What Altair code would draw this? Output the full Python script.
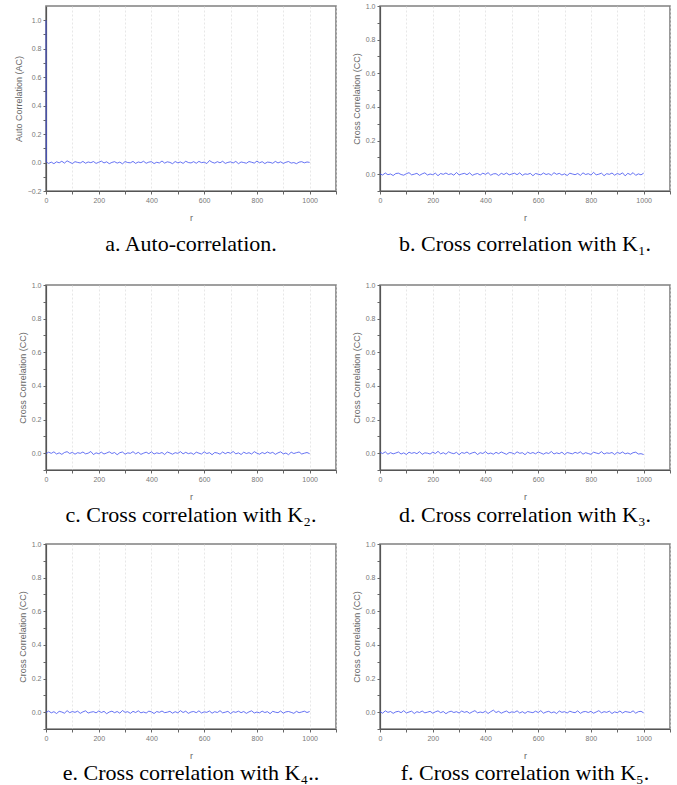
import altair as alt
import pandas as pd

# lag axis
LAGS = list(range(0, 1001, 10))
AC_LAGS = [0, 1] + list(range(10, 1001, 10))

# values in thousandths (read/estimated from the picture)
AC_VALUES = [1000, 4,
    -6, 3, -8, 5, -2, 9, -4, 12, 2, -7,
    6, 1, -3, 8, -5, 4, -1, 7, -6, 2,
    10, -3, 5, -8, 1, 6, -4, 3, -9, 7,
    0, -2, 8, -6, 4, -1, 9, -5, 3, 6,
    -7, 2, -3, 11, -4, 5, 1, -8, 7, -2,
    4, -6, 9, 0, -3, 6, -5, 8, -1, 3,
    -7, 14, 2, -4, 6, -2, 9, -6, 1, 5,
    -3, 8, -8, 4, 0, -5, 7, 2, -4, 10,
    -2, 6, -7, 3, 1, -5, 8, -3, 5, -6,
    2, 7, -4, 0, -8, 3, 6, -2, 4, 1]

K1_VALUES = [
    2, -5, 7, -3, 1, -8, 4, 6, -2, -6,
    3, 9, -4, 0, 5, -7, 2, 8, -5, 1,
    -3, 6, -9, 4, -1, 7, -2, 3, -6, 10,
    -4, 1, 5, -3, 8, -7, 0, 4, -5, 6,
    -1, 9, -6, 2, 3, -8, 5, -2, 7, -4,
    1, 6, -3, 8, -7, 2, -1, 5, -9, 4,
    0, -4, 7, -2, 3, -6, 9, -1, 5, -5,
    2, -8, 6, 1, -3, 4, -7, 8, -2, 3,
    -5, 11, -4, 0, 6, -9, 3, -1, 7, -6,
    4, -2, 8, -10, 5, -3, 9, -7, 2, -4,
    6]

K2_VALUES = [
    -3, 6, -1, 8, -5, 2, -7, 4, 9, -2,
    5, -6, 3, -1, 7, -4, 0, 10, -8, 2,
    -3, 6, -5, 1, 8, -2, 4, -9, 3, 7,
    -6, 2, -1, 9, -4, 5, -7, 0, 6, -3,
    8, -5, 2, -2, 4, -8, 7, 1, -6, 3,
    -1, 9, -4, 5, -3, 2, -7, 6, 0, -5,
    8, -2, 3, -9, 4, 1, -6, 7, -3, 5,
    -1, 10, -4, 2, -8, 6, -2, 3, -5, 9,
    0, -6, 4, -3, 7, -1, 5, -7, 2, 8,
    -4, 1, -9, 6, -2, 3, 7, -5, 0, 4,
    -3]

K3_VALUES = [
    5, -2, 8, -6, 3, -4, 1, 7, -5, 2,
    -8, 6, -1, 4, -3, 9, -7, 2, 0, -5,
    6, -2, 11, -4, 3, -6, 8, 1, -3, 5,
    -9, 4, -1, 7, -5, 2, 6, -8, 3, -2,
    9, -4, 1, -6, 5, -3, 7, 0, -7, 4,
    2, -5, 8, -1, 3, -9, 6, -2, 4, -4,
    7, 1, -6, 3, -2, 10, -5, 2, -3, 6,
    -8, 4, 0, -4, 5, -1, 8, -6, 3, -2,
    -7, 6, 1, -3, 9, -5, 2, -1, 4, -8,
    5, -2, 7, -4, 1, -6, 3, 6, -5, -3,
    -8]

K4_VALUES = [
    -2, 7, -4, 3, -8, 5, 1, -6, 9, -3,
    4, -1, 6, -7, 2, 8, -5, 0, 3, -4,
    7, -2, 5, -9, 1, 6, -3, 4, -6, 10,
    -1, 3, -7, 5, -2, 8, -4, 1, -5, 6,
    2, -8, 4, -1, 7, -3, 0, 5, -6, 3,
    -4, 9, -2, 6, -7, 1, 4, -3, 8, -5,
    2, -1, 7, -6, 3, -2, 9, -4, 0, 5,
    -8, 3, -1, 6, -3, 4, -7, 2, 8, -5,
    1, -4, 6, -2, 3, -9, 5, 0, -3, 7,
    -6, 2, 4, -1, -7, 5, -3, 1, 6, -2,
    4]

K5_VALUES = [
    3, -6, 8, -1, 4, -7, 2, 5, -3, 9,
    -5, 1, 6, -8, 3, -2, 7, -4, 0, 5,
    -6, 2, 8, -3, 4, -9, 1, 6, -2, 3,
    -5, 7, -1, 4, -7, 2, 9, -4, 1, -3,
    6, -8, 3, 12, -2, 5, -6, 1, 7, -4,
    2, -1, 8, -5, 3, -7, 4, 0, -3, 6,
    -2, 9, -6, 1, 5, -4, 2, -8, 7, -1,
    3, -5, 6, 0, -3, 8, -7, 2, 4, -2,
    5, -6, 1, 9, -4, 3, -1, 6, -8, 2,
    -3, 7, -5, 4, 1, -2, 8, -6, 3, 5,
    -4]

CAPTIONS = [
    "a. Auto-correlation.",
    "b. Cross correlation with K\u2081.",
    "c. Cross correlation with K\u2082.",
    "d. Cross correlation with K\u2083.",
    "e. Cross correlation with K\u2084..",
    "f. Cross correlation with K\u2085.",
]
Y_TITLES = ["Auto Correlation (AC)"] + ["Cross Correlation (CC)"] * 5

X_TICKS = [0, 100, 200, 300, 400, 500, 600, 700, 800, 900, 1000, 1100]
Y_TICKS_AC = [-0.2, -0.1, 0.0, 0.1, 0.2, 0.3, 0.4, 0.5, 0.6, 0.7, 0.8, 0.9, 1.0]
Y_TICKS_CC = [-0.1, 0.0, 0.1, 0.2, 0.3, 0.4, 0.5, 0.6, 0.7, 0.8, 0.9, 1.0]

LINE_COLOR = "#3f4ff0"
W, H = 290, 185


def make_df(lags, vals):
    return pd.DataFrame({"r": lags, "v": [x / 1000.0 for x in vals]})


def panel(df, ytitle, ydomain, yticks, caption, cap_offset):
    return (
        alt.Chart(df)
        .mark_line(color=LINE_COLOR, strokeWidth=0.8)
        .encode(
            x=alt.X(
                "r:Q",
                scale=alt.Scale(domain=[0, 1100], nice=False, zero=False),
                axis=alt.Axis(
                    values=X_TICKS,
                    format="d",
                    labelExpr="(datum.value % 200 == 0 && datum.value < 1100) ? datum.label : ''",
                    title="r",
                    grid=True,
                    gridColor="#dddddd",
                    gridDash=[2, 2],
                    gridWidth=0.7,
                    labelFlush=False,
                ),
            ),
            y=alt.Y(
                "v:Q",
                scale=alt.Scale(domain=ydomain, nice=False, zero=False),
                axis=alt.Axis(
                    values=yticks,
                    format=".1f",
                    labelExpr="(abs(round(datum.value * 10)) % 2 == 0) ? datum.label : ''",
                    title=ytitle,
                    grid=False,
                ),
            ),
        )
        .properties(
            width=W,
            height=H,
            title=alt.TitleParams(
                caption,
                orient="bottom",
                font="Liberation Serif",
                fontSize=22,
                fontWeight="normal",
                color="#000000",
                offset=cap_offset,
                anchor="middle",
            ),
        )
    )


pa = panel(make_df(AC_LAGS, AC_VALUES), Y_TITLES[0], [-0.2, 1.1], Y_TICKS_AC, CAPTIONS[0], 12)
pb = panel(make_df(LAGS, K1_VALUES), Y_TITLES[1], [-0.1, 1.0], Y_TICKS_CC, CAPTIONS[1], 12)
pc = panel(make_df(LAGS, K2_VALUES), Y_TITLES[2], [-0.1, 1.0], Y_TICKS_CC, CAPTIONS[2], 4)
pd_ = panel(make_df(LAGS, K3_VALUES), Y_TITLES[3], [-0.1, 1.0], Y_TICKS_CC, CAPTIONS[3], 4)
pe = panel(make_df(LAGS, K4_VALUES), Y_TITLES[4], [-0.1, 1.0], Y_TICKS_CC, CAPTIONS[4], 3)
pf = panel(make_df(LAGS, K5_VALUES), Y_TITLES[5], [-0.1, 1.0], Y_TICKS_CC, CAPTIONS[5], 3)

row1 = alt.hconcat(pa, pb, spacing=13)
row2 = alt.hconcat(pc, pd_, spacing=13)
row3 = alt.hconcat(pe, pf, spacing=13)

chart = (
    alt.vconcat(alt.vconcat(row1, row2, spacing=24), row3, spacing=12)
    .properties(padding={"left": 13, "top": 1, "right": 0, "bottom": 0})
    .configure_view(stroke="#808080", strokeWidth=1.6)
    .configure_axis(
        labelFont="Liberation Sans",
        labelFontSize=7,
        labelColor="#777777",
        titleFont="Liberation Sans",
        titleFontSize=9,
        titleColor="#666666",
        titleFontWeight="normal",
        domainColor="#555555",
        domainWidth=1.2,
        tickColor="#666666",
        tickSize=3,
        titlePadding=4,
        labelPadding=2,
    )
    .configure_axisX(titlePadding=10)
)

chart.save("out.html", embed_options={"renderer": "svg", "actions": False})
